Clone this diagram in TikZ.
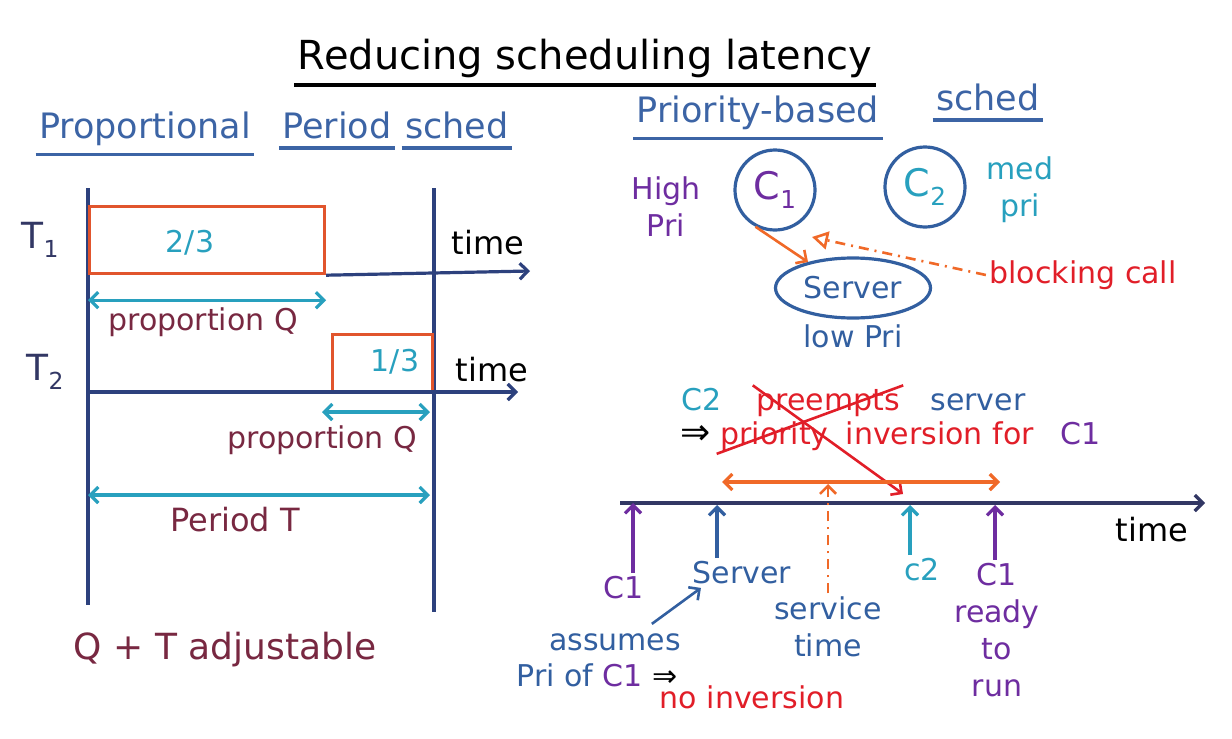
\documentclass[tikz,border=0pt]{standalone}
\usepackage{fontspec}
\setmainfont{DejaVu Sans}
\usepackage{graphicx}
\usepackage{tikz}
\usetikzlibrary{positioning,arrows.meta,shapes.geometric}
\definecolor{headblue}{RGB}{60,100,165}
\definecolor{axisnavy}{RGB}{45,65,125}
\definecolor{linenavy}{RGB}{50,55,100}
\definecolor{slotred}{RGB}{225,85,45}
\definecolor{tealc}{RGB}{40,160,190}
\definecolor{maroonc}{RGB}{120,40,65}
\definecolor{purplec}{RGB}{110,45,160}
\definecolor{redc}{RGB}{225,30,40}
\definecolor{orangec}{RGB}{240,105,40}
\definecolor{srvblue}{RGB}{50,95,160}
\newcommand{\lowidx}[1]{\raisebox{-.45ex}{\scalebox{.65}{#1}}}

\begin{document}
\begin{tikzpicture}[x=1pt,y=-1pt,line width=3.2pt,
    every node/.style={font=\fontsize{30}{37}\selectfont,inner sep=2pt},
    head/.style={text=headblue,font=\fontsize{35}{40}\selectfont,anchor=base},
    ax/.style={draw=axisnavy},
    tip/.style={-{Straight Barb[length=8pt,width=16pt]}},
    dbl/.style={draw=tealc,{Straight Barb[length=8pt,width=16pt]}-{Straight Barb[length=8pt,width=16pt]}},
    dashdot/.style={dash pattern=on 10pt off 6pt on 2pt off 6pt},
    slot/.style={draw=slotred,anchor=north west,minimum width=235,minimum height=67},
    proc/.style={circle,draw=srvblue,minimum size=80,font=\fontsize{38}{40}\selectfont}]
  \useasboundingbox (0,0) rectangle (1232,739);

  % title and headings
  \node[font=\fontsize{40}{44}\selectfont] (title) at (585,58) {Reducing scheduling latency};
  \draw ([yshift=-4pt]title.south west) -- ([yshift=-4pt]title.south east);
  \node[head] (prop) at (145,138) {Proportional};
  \node[head] (peri) at (337,138) {Period};
  \node[head] (sch1) at (457,138) {sched};
  \node[head] (prio) at (758,122) {Priority-based};
  \node[head] (sch2) at (988,110) {sched};
  \foreach \w in {prop,peri,sch1,prio,sch2}
    \draw[headblue] ([yshift=-6pt]\w.south west) -- ([yshift=-6pt]\w.south east);

  % proportional period scheduling
  \coordinate (l0) at (88,188); \coordinate (l1) at (88,605);
  \coordinate (r0) at (434,188); \coordinate (r1) at (434,612);
  \draw[ax] (l0) -- (l1);
  \draw[ax] (r0) -- (r1);
  \node[text=linenavy,font=\fontsize{36}{40}\selectfont] (t1) at (40,240) {T\lowidx{1}};
  \node[text=linenavy,font=\fontsize{36}{40}\selectfont] (t2) at (45,372) {T\lowidx{2}};
  \node[slot] (t1box) at (88,205) {};
  \node[text=tealc] at (190,243) {2/3};
  \coordinate (t1end) at (530,271);
  \draw[ax,tip] (t1box.south east) -- (t1end);
  \node[font=\fontsize{32}{37}\selectfont] (time1) at (488,243) {time};
  \draw[dbl] ([yshift=-25pt]t1box.south west) -- ([yshift=-25pt]t1box.south east);
  \node[text=maroonc] (pq1) at (203,322) {proportion Q};
  \node[slot,minimum width=100,minimum height=57] (t2box) at (331,333) {};
  \node[text=tealc] at (395,362) {1/3};
  \coordinate (t2start) at (88,392); \coordinate (t2end) at (518,392);
  \draw[ax,tip] (t2start) -- (t2end);
  \node[font=\fontsize{32}{37}\selectfont] (time2) at (492,370) {time};
  \coordinate (q2a) at (322,412); \coordinate (q2b) at (430,412);
  \draw[dbl] (q2a) -- (q2b);
  \node[text=maroonc] (pq2) at (322,440) {proportion Q};
  \coordinate (pa) at (88,495); \coordinate (pb) at (430,495);
  \draw[dbl] (pa) -- (pb);
  \node[text=maroonc,font=\fontsize{32}{37}\selectfont] (pert) at (235,520) {Period T};
  \node[text=maroonc,font=\fontsize{36}{40}\selectfont] (adj) at (225,650) {Q + T adjustable};

  % priority based scheduling
  \node[proc,text=purplec] (c1) at (775,190) {C\lowidx{1}};
  \node[proc,text=tealc] (c2) at (925,187) {C\lowidx{2}};
  \node[ellipse,draw=srvblue,minimum width=155,minimum height=60,text=srvblue] (srv) at (853,288) {Server};
  \node[text=purplec,align=center] (hipri) at (666,207) {High\\Pri};
  \node[text=tealc,align=center] (medpri) at (1020,190) {med\\pri};
  \node[text=srvblue,below=2pt of srv] (lowpri) {low Pri};
  \draw[orangec,tip,line width=2.6pt] (c1.-118) -- (srv.150);
  \node[text=redc] (block) at (1083,275) {blocking call};
  \coordinate (bctip) at (812,237);
  \draw[orangec,dashdot,line width=2.6pt,-{Triangle[open,length=16pt,width=18pt]}] (block.west) -- (bctip);

  % inversion example
  \node[text=tealc,anchor=base] (pc2) at (702,410) {C2};
  \node[text=redc,anchor=base] (pre) at (828,410) {preempts};
  \node[text=srvblue,anchor=base] (psrv) at (978,410) {server};
  \node[anchor=base,font=\fontsize{36}{40}\selectfont] (impl) at (696,444) {⇒};
  \node[text=redc,anchor=base west,xshift=2pt] (pri) at (impl.base east) {priority};
  \node[text=redc,anchor=base west,xshift=10pt] (inv) at (pri.base east) {inversion for};
  \node[text=purplec,anchor=base west,xshift=20pt] (pc1) at (inv.base east) {C1};
  \coordinate (xtip) at (903,494);
  \draw[redc,line width=2.6pt] (pre.north east) -- (pri.south west);
  \draw[redc,line width=2.6pt,tip] (pre.north west) -- (xtip);

  % timeline
  \coordinate (tl0) at (620,503); \coordinate (tl1) at (1205,503);
  \draw[draw=linenavy,tip] (tl0) -- (tl1);
  \node[font=\fontsize{32}{37}\selectfont] (time3) at (1152,530) {time};
  \coordinate (sv0) at (722,482); \coordinate (sv1) at (1000,482);
  \draw[orangec,{Straight Barb[length=8pt,width=16pt]}-{Straight Barb[length=8pt,width=16pt]}] (sv0) -- (sv1);
  \node[text=purplec] (m1) at (624,588) {C1};
  \node[text=srvblue] (m2) at (742,573) {Server};
  \node[text=srvblue,align=center] (m3) at (828,627) {service\\time};
  \node[text=tealc] (m4) at (922,570) {c2};
  \node[text=purplec,align=center] (m5) at (997,630) {C1\\ready\\to\\run};
  \coordinate (c1up) at (633,503); \coordinate (srvup) at (717,505);
  \coordinate (svup) at (828,484); \coordinate (c2up) at (910,505);
  \coordinate (rdup) at (995,505);
  \draw[purplec,tip] (c1up |- m1.north) -- (c1up);
  \draw[srvblue,tip] (srvup |- m2.north) -- (srvup);
  \draw[orangec,dashdot,line width=2.6pt,tip] (svup |- m3.north) -- (svup);
  \draw[tealc,tip] (c2up |- m4.north) -- (c2up);
  \draw[purplec,tip] (rdup |- m5.north) -- (rdup);
  \node[text=srvblue] (asm) at (615,642) {assumes};
  \draw[srvblue,tip,line width=2.6pt,shorten <=10pt] (asm.23) -- (m2.-160);
  \node (pof) at (597,675) {\color{srvblue}Pri of \color{purplec}C1 \color{black}⇒};
  \node[text=redc] (noinv) at (752,697) {no inversion};
\end{tikzpicture}
\end{document}
